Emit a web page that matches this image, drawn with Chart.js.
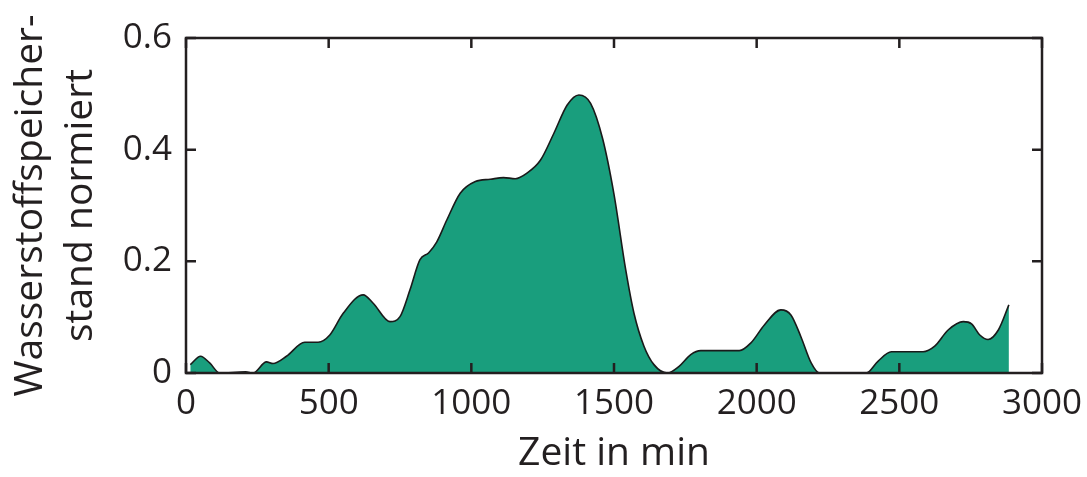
<!DOCTYPE html>
<html>
<head>
<meta charset="utf-8">
<script src="https://cdn.jsdelivr.net/npm/chart.js@4.4.1/dist/chart.umd.min.js"></script>
<style>
  html, body { margin: 0; padding: 0; background: #fff; }
  #wrap { width: 1087px; height: 477px; }
</style>
</head>
<body>
<div id="wrap"><canvas id="grafico"></canvas></div>
<script>
// Werte
const zeitMin = [15, 51, 83, 118, 209, 235, 282, 305, 352, 416, 463, 504, 551, 621, 656, 715, 750, 785, 820, 850, 879, 914, 961, 1014, 1066, 1113, 1154, 1195, 1242, 1289, 1336, 1377, 1418, 1460, 1500, 1541, 1570, 1605, 1640, 1687, 1728, 1769, 1804, 1939, 1980, 2027, 2085, 2120, 2155, 2191, 2220, 2384, 2425, 2472, 2583, 2624, 2671, 2724, 2753, 2782, 2811, 2847, 2884];
const speicherstand = [0.015, 0.030, 0.018, 0, 0.002, 0, 0.020, 0.017, 0.030, 0.055, 0.055, 0.068, 0.107, 0.140, 0.125, 0.092, 0.101, 0.149, 0.203, 0.215, 0.235, 0.274, 0.322, 0.343, 0.347, 0.350, 0.348, 0.358, 0.381, 0.429, 0.480, 0.498, 0.483, 0.420, 0.320, 0.185, 0.107, 0.048, 0.015, 0, 0.012, 0.033, 0.040, 0.040, 0.054, 0.086, 0.113, 0.104, 0.065, 0.018, 0, 0, 0.021, 0.038, 0.038, 0.048, 0.077, 0.092, 0.088, 0.068, 0.060, 0.077, 0.122];
const xTicks = [0, 500, 1000, 1500, 2000, 2500, 3000];
const xTickLabels = ['0', '500', '1000', '1500', '2000', '2500', '3000'];
const yTicks = [0, 0.2, 0.4, 0.6];
const yTickLabels = ['0', '0.2', '0.4', '0.6'];

const textFarbe = '#231f20';
const schrift = 'Open Sans';

// Rahmen mit Ticks nach innen auf allen vier Seiten
const rahmenPlugin = {
  id: 'rahmen',
  afterDraw(chart) {
    const ctx = chart.ctx;
    const a = chart.chartArea;
    const xs = chart.scales.x;
    const ys = chart.scales.y;
    const len = 10;
    ctx.save();
    ctx.strokeStyle = '#231f20';
    ctx.lineWidth = 2.5;
    ctx.strokeRect(a.left, a.top, a.right - a.left, a.bottom - a.top);
    ctx.beginPath();
    xTicks.forEach(t => {
      const px = xs.getPixelForValue(t);
      ctx.moveTo(px, a.bottom); ctx.lineTo(px, a.bottom - len);
      ctx.moveTo(px, a.top); ctx.lineTo(px, a.top + len);
    });
    yTicks.forEach(t => {
      const py = ys.getPixelForValue(t);
      ctx.moveTo(a.left, py); ctx.lineTo(a.left + len, py);
      ctx.moveTo(a.right, py); ctx.lineTo(a.right - len, py);
    });
    ctx.stroke();
    ctx.restore();
  }
};

new Chart(document.getElementById('grafico'), {
  type: 'line',
  data: {
    datasets: [{
      data: zeitMin.map((t, i) => ({ x: t, y: speicherstand[i] })),
      borderColor: '#1a1a1a',
      borderWidth: 1.6,
      backgroundColor: '#199e7d',
      fill: 'origin',
      pointRadius: 0,
      cubicInterpolationMode: 'monotone'
    }]
  },
  options: {
    responsive: true,
    maintainAspectRatio: false,
    animation: false,
    layout: { padding: { top: 38, right: 45, left: 6, bottom: 0 } },
    plugins: {
      legend: { display: false },
      tooltip: { enabled: false }
    },
    scales: {
      x: {
        type: 'linear',
        min: 0,
        max: 3000,
        afterBuildTicks: s => { s.ticks = xTicks.map(v => ({ value: v })); },
        grid: { display: false, drawTicks: false },
        border: { display: false },
        ticks: {
          color: textFarbe,
          font: { family: schrift, size: 35 },
          padding: 10,
          maxRotation: 0,
          callback: (v, i) => xTickLabels[i]
        },
        title: { display: true, text: 'Zeit in min', color: textFarbe, font: { family: schrift, size: 39 }, padding: { top: 0, bottom: 0 } },
        afterFit: s => { s.height = 104; s.paddingLeft = 0; s.paddingRight = 0; }
      },
      y: {
        min: 0,
        max: 0.6,
        afterBuildTicks: s => { s.ticks = yTicks.map(v => ({ value: v })); },
        grid: { display: false, drawTicks: false },
        border: { display: false },
        ticks: {
          color: textFarbe,
          font: { family: schrift, size: 35 },
          padding: 14,
          callback: (v, i) => yTickLabels[i]
        },
        title: {
          display: true,
          text: ['Wasserstoffspeicher-', 'stand normiert'],
          color: textFarbe,
          font: { family: schrift, size: 39, lineHeight: 1.28 },
          padding: { top: 0, bottom: 6 }
        },
        afterFit: s => { s.width = 180; s.paddingTop = 0; s.paddingBottom = 0; }
      }
    }
  },
  plugins: [rahmenPlugin]
});
</script>
</body>
</html>
